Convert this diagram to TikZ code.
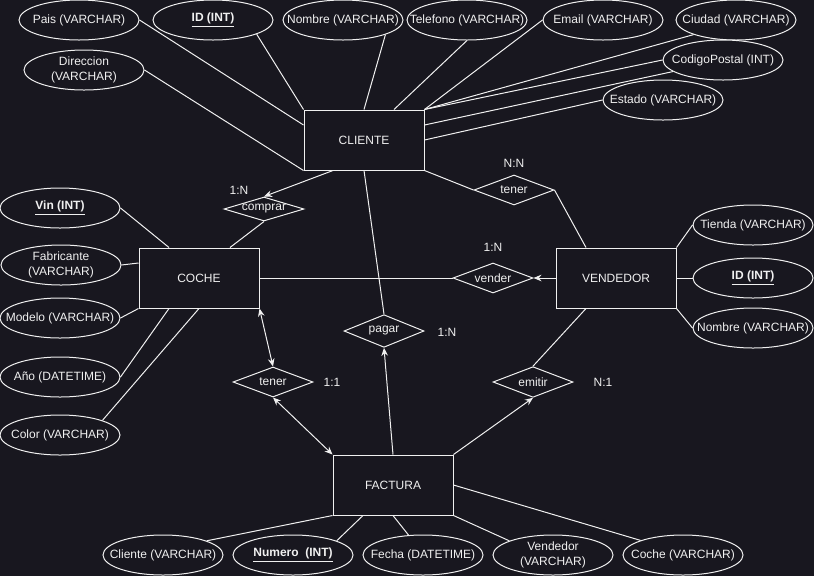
\documentclass[tikz,border=0pt]{standalone}
\usepackage{fontspec}
\setmainfont{Liberation Sans}
\usetikzlibrary{shapes.geometric,arrows.meta,calc}
\definecolor{bg}{HTML}{18171F}
\definecolor{fg}{HTML}{F0F0F0}
\newcommand{\attrnode}[3]{\node[attr] (#1) at (#2) {}; \node[align=center] at (#1.center) {#3};}
\newcommand{\relnode}[4]{\node[rel,minimum height=#3] (#1) at (#2) {}; \node at (#1.center) {#4};}
\newcommand{\keyattr}[1]{\textbf{\underline{#1}}}
\begin{document}
\begin{tikzpicture}[x=0.75pt,y=-0.75pt,
  every node/.style={text=fg,font=\fontsize{9}{11.25}\selectfont},
  ent/.style={draw=fg,fill=bg,line width=0.75pt,minimum width=90pt,minimum height=45pt,inner sep=0pt},
  attr/.style={ellipse,draw=fg,fill=bg,line width=0.75pt,minimum width=90pt,minimum height=30pt,inner sep=0pt},
  rel/.style={diamond,draw=fg,fill=bg,line width=0.75pt,minimum width=60pt,inner sep=0pt,aspect=2.67},
  conn/.style={draw=fg,line width=0.75pt},
  arr/.style={conn,-{Stealth[length=6pt,width=5pt,inset=2pt]}},
  darr/.style={conn,{Stealth[length=6pt,width=5pt,inset=2pt]}-{Stealth[length=6pt,width=5pt,inset=2pt]}}
]
\fill[bg] (0,0) rectangle (814,576);
\useasboundingbox (0,0) rectangle (814,576);

% entities
\node[ent] (cliente) at (364,140) {CLIENTE};
\node[ent] (coche) at (199,278) {COCHE};
\node[ent] (vend) at (616,278) {VENDEDOR};
\node[ent] (factura) at (393,485) {FACTURA};

% CLIENTE attributes
\attrnode{pais}{79,20}{Pais (VARCHAR)}
\attrnode{idc}{213,20}{\keyattr{ID (INT)}}
\attrnode{nombrec}{343,20}{Nombre (VARCHAR)}
\attrnode{telefono}{467,20}{Telefono (VARCHAR)}
\attrnode{email}{603,20}{Email (VARCHAR)}
\attrnode{ciudad}{736,20}{Ciudad (VARCHAR)}
\attrnode{codigo}{723,60}{CodigoPostal (INT)}
\attrnode{estado}{663,100}{Estado (VARCHAR)}
\attrnode{direccion}{84,70}{Direccion\\(VARCHAR)}

% COCHE attributes
\attrnode{vin}{60,208}{\keyattr{Vin (INT)}}
\attrnode{fab}{61,265}{Fabricante\\(VARCHAR)}
\attrnode{modelo}{60,318}{Modelo (VARCHAR)}
\attrnode{ano}{60,377}{Año (DATETIME)}
\attrnode{color}{60,435}{Color (VARCHAR)}

% VENDEDOR attributes
\attrnode{tienda}{753,225}{Tienda (VARCHAR)}
\attrnode{idv}{753,278}{\keyattr{ID (INT)}}
\attrnode{nombrev}{753,328}{Nombre (VARCHAR)}

% FACTURA attributes
\attrnode{clientef}{163,555}{Cliente (VARCHAR)}
\attrnode{numero}{293,555}{\keyattr{Numero\ \ (INT)}}
\attrnode{fecha}{423,555}{Fecha (DATETIME)}
\attrnode{vendf}{553,555}{Vendedor\\(VARCHAR)}
\attrnode{cochef}{683,555}{Coche (VARCHAR)}

% relationships
\relnode{comprar}{264,209}{18pt}{comprar}
\relnode{tenera}{514,190}{22.5pt}{tener}
\relnode{vender}{493,278}{22.5pt}{vender}
\relnode{pagar}{384,331}{24.5pt}{pagar}
\relnode{tenerb}{273,382}{22.5pt}{tener}
\relnode{emitir}{533,382}{23pt}{emitir}

% cardinalities
\node (k1) at (239,190) {1:N};
\node (k2) at (514,163) {N:N};
\node (k3) at (493,247) {1:N};
\node (k4) at (447,332) {1:N};
\node (k5) at (332,382) {1:1};
\node (k6) at (603,382) {N:1};

% CLIENTE attribute links
\draw[conn] (pais.east) -- ($(cliente.west)+(0,-15)$);
\draw[conn] (idc.-18) -- (cliente.north west);
\draw[conn] (nombrec.-19) -- (cliente.north);
\draw[conn] (telefono.south) -- ($(cliente.north)+(30,0)$);
\draw[conn] (email.west) -- (cliente.north east);
\draw[conn] (ciudad.199) -- (cliente.north east);
\draw[conn] (codigo.west) -- (cliente.north east);
\draw[conn] (codigo.193) -- ($(cliente.east)+(0,-15)$);
\draw[conn] (estado.west) -- (cliente.east);
\draw[conn] (direccion.east) -- (cliente.south west);

% COCHE attribute links
\draw[conn] (vin.east) -- ($(coche.north)+(-30,0)$);
\draw[conn] (fab.east) -- ($(coche.west)+(0,-15)$);
\draw[conn] (modelo.east) -- (coche.south west);
\draw[conn] (ano.east) -- ($(coche.south)+(-30,0)$);
\draw[conn] (color.19) -- (coche.south);

% VENDEDOR attribute links
\draw[conn] (tienda.west) -- (vend.north east);
\draw[conn] (idv.west) -- (vend.east);
\draw[conn] (nombrev.west) -- (vend.south east);

% FACTURA attribute links
\draw[conn] (clientef.18) -- (factura.south west);
\draw[conn] (numero.18) -- ($(factura.south)+(-30,0)$);
\draw[conn] (fecha.126) -- (factura.south);
\draw[conn] (vendf.162) -- (factura.south east);
\draw[conn] (cochef.161) -- (factura.east);

% relationship links
\draw[arr] ($(cliente.south)+(-31,0)$) -- (comprar.north);
\draw[conn] (comprar.south) -- ($(coche.north)+(31,0)$);
\draw[conn] (cliente.south east) -- (tenera.west);
\draw[conn] (tenera.east) -- ($(vend.north)+(-30,0)$);
\draw[conn] (cliente.south) -- (pagar.north);
\draw[arr] (factura.north) -- (pagar.south);
\draw[conn] (coche.east) -- (vender.west);
\draw[arr] (vend.west) -- (vender.east);
\draw[darr] (coche.south east) -- (tenerb.north);
\draw[darr] (tenerb.south) -- (factura.north west);
\draw[conn] ($(vend.south)+(-30,0)$) -- (emitir.north);
\draw[arr] (factura.north east) -- (emitir.south);
\end{tikzpicture}
\end{document}
